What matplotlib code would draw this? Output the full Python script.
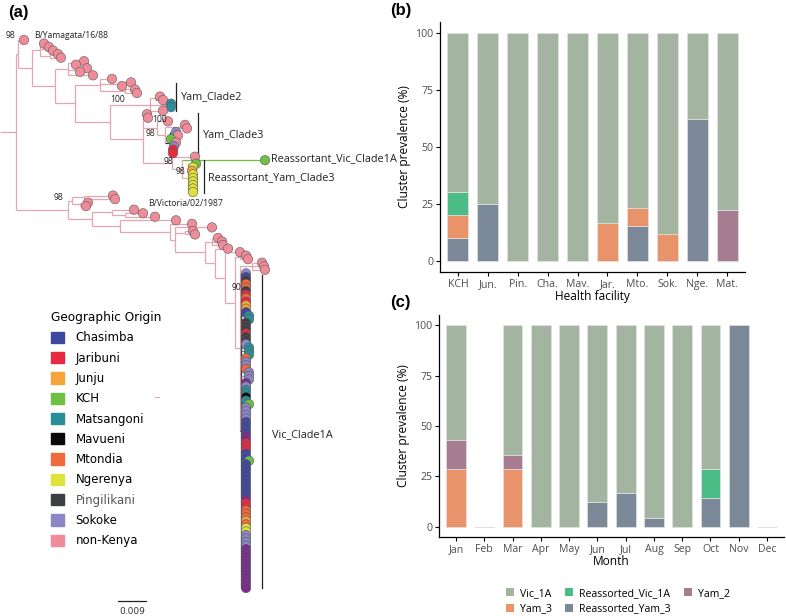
import matplotlib
matplotlib.use("Agg")
import matplotlib.pyplot as plt
from matplotlib.patches import Patch
from matplotlib.collections import LineCollection
import numpy as np

# ---------------------------------------------------------------- data (b)
facilities = ['KCH', 'Jun.', 'Pin.', 'Cha.', 'Mav.', 'Jar.', 'Mto.', 'Sok.', 'Nge.', 'Mat.']
fac_vic1a = [70, 75, 100, 100, 100, 83.3, 76.9, 88.2, 37.5, 77.8]
fac_reassorted_vic1a = [10, 0, 0, 0, 0, 0, 0, 0, 0, 0]
fac_yam2 = [0, 0, 0, 0, 0, 0, 0, 0, 0, 22.2]
fac_yam3 = [10, 0, 0, 0, 0, 16.7, 7.7, 11.8, 0, 0]
fac_reassorted_yam3 = [10, 25, 0, 0, 0, 0, 15.4, 0, 62.5, 0]

# ---------------------------------------------------------------- data (c)
months = ['Jan', 'Feb', 'Mar', 'Apr', 'May', 'Jun', 'Jul', 'Aug', 'Sep', 'Oct', 'Nov', 'Dec']
mon_vic1a = [57.1, 0, 64.3, 100, 100, 87.5, 83.3, 95.7, 100, 71.4, 0, 0]
mon_reassorted_vic1a = [0, 0, 0, 0, 0, 0, 0, 0, 0, 14.3, 0, 0]
mon_yam2 = [14.3, 0, 7.1, 0, 0, 0, 0, 0, 0, 0, 0, 0]
mon_yam3 = [28.6, 0, 28.6, 0, 0, 0, 0, 0, 0, 0, 0, 0]
mon_reassorted_yam3 = [0, 0, 0, 0, 0, 12.5, 16.7, 4.3, 0, 14.3, 100, 0]

cluster_names = ['Vic_1A', 'Reassorted_Vic_1A', 'Yam_2', 'Yam_3', 'Reassorted_Yam_3']
cluster_colors = ['#a3b5a0', '#4cbc86', '#a87c90', '#e8936a', '#7b8898']

# ---------------------------------------------------------------- data (a)
site_codes = ['C', 'J', 'U', 'K', 'M', 'V', 'T', 'N', 'P', 'S', 'X']
site_names = ['Chasimba', 'Jaribuni', 'Junju', 'KCH', 'Matsangoni', 'Mavueni',
              'Mtondia', 'Ngerenya', 'Pingilikani', 'Sokoke', 'non-Kenya']
site_colors = ['#3f48a0', '#e62a40', '#f6a53a', '#70bf45', '#2a8f9a', '#0a0a0a',
               '#ef6a3c', '#dfe13c', '#3d3f44', '#8c87c4', '#f08c9a']
extra_code, extra_color = 'Q', '#7a2e8c'

# tips of the Vic_Clade1A column, top to bottom
vic_column_codes = ("SCPTTPJTJUUCMMPP" "PJPPSMMMTSSTSSSQ" "SMMVMKSSSSCCCCQQ"
                    "JJJCCKCCCCCCCCCC" "QJJTTTUTNNSSSS" "QQQQQQQQQQQQ")
vic_column_div = 246
vic_column_outer = [12, 13, 21, 22, 23, 28, 29, 30, 37, 53]   # tips sitting further out
vic_column_outer_div = 249

PINK_LINE = '#e3a6b1'
DARK_LINE = '#333333'


def N(x, *kids, col=PINK_LINE):
    return {'x': x, 'kids': list(kids), 'col': col}


def T(x, code):
    return {'x': x, 'code': code}


tree = N(16,
         N(18, T(24, 'X'),
           N(32,
             N(40, T(44, 'X'), N(46, T(49, 'X'), T(53, 'X')), N(50, T(58, 'X'), T(61, 'X'))),
             N(55,
               N(68, N(78, T(84, 'X'), T(76, 'X')), N(77, T(87, 'X'), T(80, 'X')), T(93, 'X')),
               N(75,
                 N(100, T(112, 'X'), N(118, T(131, 'X'), T(122, 'X')), N(125, T(135, 'X'), T(137, 'X'))),
                 N(110,
                   N(150, N(155, T(160, 'X'), T(163, 'X')), N(165, T(171, 'M'), T(171, 'M')), T(163, 'X')),
                   N(143, T(147, 'X'), T(148, 'X'),
                     N(157, T(168, 'X'),
                       N(165, N(180, T(185, 'X'), T(187, 'X')),
                         N(170, T(176, 'S'), T(178, 'X'), T(171, 'K'), T(176, 'X'),
                           T(174, 'S'), T(173, 'J'), T(173, 'J'), col=DARK_LINE))),
                     N(172, T(195, 'X'),
                       N(182, T(265, 'K'),
                         N(188, T(196, 'K'), T(193, 'N'), T(192, 'U'), T(193, 'N'), T(193, 'N'),
                           T(193, 'N'), T(193, 'N'), T(193, 'N'), T(193, 'N'), col='#c9c96a'))))))))),
         N(68,
           N(72, N(84, T(113, 'X'), T(115, 'X')), N(80, T(88, 'X'), T(86, 'X'))),
           N(92,
             N(112, T(134, 'X'), N(125, T(143, 'X'), T(155, 'X'))),
             N(120, T(176, 'X'),
               N(170, T(192, 'X'),
                 N(175, T(212, 'X'), N(185, T(193, 'X'), T(195, 'X')),
                   N(205, N(212, T(218, 'X'), T(222, 'X'), T(223, 'X')),
                     N(215, T(228, 'X'),
                       N(225, T(240, 'X'),
                         N(235, N(240, T(246, 'X'), T(248, 'X')),
                           N(240, N(252, T(262, 'X'), T(264, 'X'), T(265, 'X')),
                             N(241, *[T(vic_column_outer_div if i in vic_column_outer else vic_column_div, c)
                                      for i, c in enumerate(vic_column_codes)], col=DARK_LINE))))))))))))
root_edge = 16

# ---------------------------------------------------------------- figure
W, H = 786, 616
fig = plt.figure(figsize=(W / 100, H / 100), dpi=100)
SANS = ['Open Sans', 'DejaVu Sans']
plt.rcParams['font.family'] = SANS

# ---------------- panel (a): tree
code_color = dict(zip(site_codes, site_colors))
code_color[extra_code] = extra_color

tips = []


def layout(node):
    if 'code' in node:
        node['y'] = len(tips)
        tips.append(node)
        return node['y']
    ys = [layout(k) for k in node['kids']]
    node['y'] = (min(ys) + max(ys)) / 2
    return node['y']


layout(tree)
n_tips = len(tips)
slot_px = (588 - 40) / (n_tips - 1)

ax = fig.add_axes([0, 0, 393 / W, 1])
ax.set_xlim(0, 393)
ax.set_ylim((H - 40) / slot_px, -40 / slot_px)
ax.axis('off')

segs, cols = [], []


def collect(node):
    if 'code' in node:
        return
    ys = [k['y'] for k in node['kids']]
    segs.append([(node['x'], min(ys)), (node['x'], max(ys))])
    cols.append(node['col'])
    for k in node['kids']:
        segs.append([(node['x'], k['y']), (k['x'], k['y'])])
        if 'code' in k:
            cols.append(PINK_LINE if k['code'] == 'X' else code_color[k['code']])
        else:
            cols.append(k['col'])
        collect(k)


collect(tree)
segs.append([(0, tree['y']), (root_edge, tree['y'])])
cols.append(PINK_LINE)
ax.add_collection(LineCollection(segs, colors=cols, linewidths=0.9, zorder=1))

tx = [t['x'] for t in tips]
ty = [t['y'] for t in tips]
tc = [code_color[t['code']] for t in tips]
ax.scatter(tx, ty, s=46, c=tc, edgecolors='#5a5a5a', linewidths=0.4, zorder=3)


def py(px):
    return (px - 40) / slot_px


small = dict(fontsize=6.2, color='#222222', va='center')
ax.text(10, py(36), '98', ha='center', **small)
ax.text(34, py(36), 'B/Yamagata/16/88', ha='left', **small)
ax.text(118, py(100), '100', ha='center', **small)
ax.text(160, py(119), '100', ha='center', **small)
ax.text(150, py(133), '98', ha='center', **small)
ax.text(168, py(162), '98', ha='center', **small)
ax.text(180, py(171), '98', ha='center', **small)
ax.text(58, py(197), '98', ha='center', **small)
ax.text(148, py(203), 'B/Victoria/02/1987', ha='left', **small)
ax.text(236, py(287), '90', ha='center', **small)

clade = dict(fontsize=7.8, color='#222222', va='center', ha='left')
for x0, y0, y1, lab, lx, ly in [(176, 83, 111, 'Yam_Clade2', 181, 97),
                                (198, 113, 160, 'Yam_Clade3', 203, 135),
                                (204, 160, 193, 'Reassortant_Yam_Clade3', 208, 178),
                                (262, 275, 588, 'Vic_Clade1A', 272, 435)]:
    ax.plot([x0, x0], [py(y0), py(y1)], color='#222222', lw=0.9)
    ax.text(lx, py(ly), lab, **clade)
ax.text(271, py(159), 'Reassortant_Vic_Clade1A', **clade)

ax.plot([155, 159], [py(397), py(397)], color=PINK_LINE, lw=0.8)
ax.plot([118, 146], [py(601), py(601)], color='#222222', lw=0.9)
ax.text(132, py(612), '0.009', ha='center', va='center', fontsize=6.5, color='#333333',
        family='DejaVu Sans')

handles = [Patch(facecolor=c, edgecolor=c) for c in site_colors]
leg = ax.legend(handles, site_names, title='Geographic Origin', loc='upper left',
                bbox_to_anchor=(45 / W, 1 - 305 / H), bbox_transform=fig.transFigure,
                frameon=False, borderpad=0, handlelength=1.1, handleheight=1.1,
                handletextpad=1.0, labelspacing=0.62, alignment='left',
                prop={'family': 'DejaVu Sans', 'size': 8.5},
                title_fontproperties={'family': 'DejaVu Sans', 'size': 8.7})
for t, nm in zip(leg.get_texts(), site_names):
    if nm == 'Pingilikani':
        t.set_color('#555555')

# ---------------- panels (b) and (c)
stack_order = ['Reassorted_Yam_3', 'Yam_3', 'Yam_2', 'Reassorted_Vic_1A', 'Vic_1A']
ccol = dict(zip(cluster_names, cluster_colors))


def stacked(axb, cats, series):
    x = np.arange(len(cats))
    bottom = np.zeros(len(cats))
    for name in stack_order:
        vals = np.asarray(series[name], dtype=float)
        m = vals > 0
        axb.bar(x[m], vals[m], 0.7, bottom=bottom[m], color=ccol[name],
                edgecolor='#e2e2e2', linewidth=0.5)
        bottom += vals
    empty = bottom == 0
    if empty.any():
        axb.bar(x[empty], bottom[empty], 0.7, color='none', edgecolor='#d8d8d8', linewidth=0.6)
    axb.set_xlim(-0.6, len(cats) - 0.4)
    axb.set_ylim(-5, 105)
    axb.set_xticks(x)
    axb.set_xticklabels(cats)
    axb.set_yticks([0, 25, 50, 75, 100])
    for s in ['top', 'right']:
        axb.spines[s].set_visible(False)
    for s in ['left', 'bottom']:
        axb.spines[s].set_linewidth(0.9)
    axb.tick_params(length=3, width=0.8, labelsize=7.6, labelcolor='#4d4d4d', pad=2)
    axb.set_ylabel('Cluster prevalence (%)', fontsize=8.6, labelpad=3)


ax_b = fig.add_axes([440 / W, 1 - 272 / H, 305 / W, 250 / H])
stacked(ax_b, facilities, {'Vic_1A': fac_vic1a, 'Reassorted_Vic_1A': fac_reassorted_vic1a,
                           'Yam_2': fac_yam2, 'Yam_3': fac_yam3,
                           'Reassorted_Yam_3': fac_reassorted_yam3})
ax_b.set_xlabel('Health facility', fontsize=8.6, labelpad=0)

ax_c = fig.add_axes([439 / W, 1 - 537 / H, 345 / W, 222 / H])
stacked(ax_c, months, {'Vic_1A': mon_vic1a, 'Reassorted_Vic_1A': mon_reassorted_vic1a,
                       'Yam_2': mon_yam2, 'Yam_3': mon_yam3,
                       'Reassorted_Yam_3': mon_reassorted_yam3})
ax_c.set_xlabel('Month', fontsize=8.6, labelpad=0)

order = ['Vic_1A', 'Yam_3', 'Reassorted_Vic_1A', 'Reassorted_Yam_3', 'Yam_2']
fig.legend([Patch(facecolor=ccol[n], edgecolor='none') for n in order], order,
           loc='center', bbox_to_anchor=(618 / W, 1 - 601 / H), ncol=3, frameon=False,
           fontsize=7.6, handlelength=0.75, handleheight=0.75, handletextpad=0.55,
           columnspacing=1.3, labelspacing=0.45, borderpad=0)

lab = dict(fontsize=12, fontweight='bold', family='Liberation Sans', va='center', ha='left')
fig.text(8 / W, 1 - 13 / H, '(a)', **lab)
fig.text(390 / W, 1 - 11 / H, '(b)', **lab)
fig.text(390 / W, 1 - 302 / H, '(c)', **lab)

fig.savefig('out.png', dpi=100)
